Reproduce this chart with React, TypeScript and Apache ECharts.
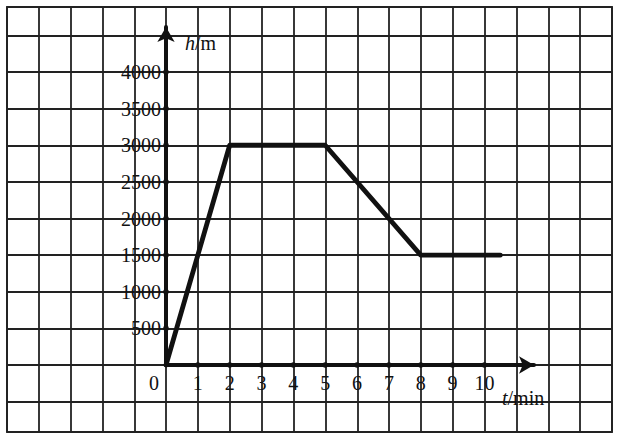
import { useEffect, useRef } from "react";
import * as echarts from "echarts";

// ---- data ----
const times = [0, 2, 5, 8, 10.5];
const heights = [0, 3000, 3000, 1500, 1500];
const xTickValues = [1, 2, 3, 4, 5, 6, 7, 8, 9, 10];
const xTickLabels = ["1", "2", "3", "4", "5", "6", "7", "8", "9", "10"];
const yTickValues = [500, 1000, 1500, 2000, 2500, 3000, 3500, 4000];
const yTickLabels = ["500", "1000", "1500", "2000", "2500", "3000", "3500", "4000"];
const paperXRange = [-5, 14];
const paperYRange = [-500, 4500];

// ---- layout ----
const W = 617;
const H = 439;
const OX = 166; // pixel of t = 0
const OY = 365; // pixel of h = 0
const UX = 31.84; // px per minute
const UY = 36.625; // px per 500 m
const PAPER = { left: 7, right: 612, top: 7, bottom: 432 };
const AXIS_END = { x: 534, y: 27 };

const FONT = "'Liberation Serif', 'Times New Roman', serif";
const INK = "#111";
const GRIDC = "#222";
const GRIDW = 1.8;

export default function App() {
  const ref = useRef<HTMLDivElement>(null);
  useEffect(() => {
    document.body.style.margin = "0";
    if (!ref.current) return;
    const chart = echarts.init(ref.current, null, { renderer: "svg" });

    const axXMax = (AXIS_END.x - OX) / UX;
    const axYMax = ((OY - AXIS_END.y) / UY) * 500;
    const hTop = OY - (paperYRange[1] / 500) * UY;
    const hBottom = OY - (paperYRange[0] / 500) * UY;

    const labelStyle = { fontFamily: FONT, fontSize: 20, color: INK };

    const hidden = {
      axisLine: { show: false },
      axisTick: { show: false },
      axisLabel: { show: false },
    };

    chart.setOption({
      animation: false,
      backgroundColor: "#fff",
      grid: [
        {
          left: PAPER.left,
          right: W - PAPER.right,
          top: PAPER.top,
          bottom: H - PAPER.bottom,
          show: true,
          borderColor: GRIDC,
          borderWidth: GRIDW,
        },
        { left: PAPER.left, right: W - PAPER.right, top: hTop, bottom: H - hBottom },
        { left: OX, right: W - AXIS_END.x, top: AXIS_END.y, bottom: H - OY },
      ],
      xAxis: [
        {
          gridIndex: 0,
          type: "value",
          min: paperXRange[0],
          max: paperXRange[1],
          interval: 1,
          ...hidden,
          splitLine: { show: true, lineStyle: { color: GRIDC, width: GRIDW } },
        },
        {
          gridIndex: 1,
          type: "value",
          min: 0,
          max: 1,
          ...hidden,
          splitLine: { show: false },
        },
        {
          gridIndex: 2,
          type: "value",
          min: 0,
          max: axXMax,
          interval: 1,
          axisLine: {
            show: true,
            onZero: false,
            symbol: ["none", "arrow"],
            symbolSize: [13, 15],
            lineStyle: { color: INK, width: 4 },
          },
          axisTick: { show: false },
          splitLine: { show: false },
          axisLabel: {
            ...labelStyle,
            margin: 8,
            showMaxLabel: false,
            formatter: (v: number) => {
              const i = xTickValues.indexOf(v);
              return i >= 0 ? xTickLabels[i] : "";
            },
          },
        },
      ],
      yAxis: [
        {
          gridIndex: 0,
          type: "value",
          min: 0,
          max: 1,
          ...hidden,
          splitLine: { show: false },
        },
        {
          gridIndex: 1,
          type: "value",
          min: paperYRange[0],
          max: paperYRange[1],
          interval: 500,
          ...hidden,
          splitLine: { show: true, lineStyle: { color: GRIDC, width: GRIDW } },
        },
        {
          gridIndex: 2,
          type: "value",
          min: 0,
          max: axYMax,
          interval: 500,
          axisLine: {
            show: true,
            onZero: false,
            symbol: ["none", "arrow"],
            symbolSize: [13, 15],
            lineStyle: { color: INK, width: 4 },
          },
          axisTick: { show: false },
          splitLine: { show: false },
          axisLabel: {
            ...labelStyle,
            margin: 5,
            showMaxLabel: false,
            formatter: (v: number) => {
              const i = yTickValues.indexOf(v);
              return i >= 0 ? yTickLabels[i] : "";
            },
          },
        },
      ],
      series: [
        {
          type: "line",
          xAxisIndex: 2,
          yAxisIndex: 2,
          data: times.map((t, i) => [t, heights[i]]),
          symbol: "none",
          clip: false,
          lineStyle: { color: INK, width: 4.8, join: "round", cap: "round" },
          z: 5,
        },
        {
          type: "scatter",
          xAxisIndex: 2,
          yAxisIndex: 2,
          symbolSize: 6,
          clip: false,
          itemStyle: { color: INK },
          data: [
            ...xTickValues.map((v) => [v, 0]),
            ...yTickValues.map((v) => [0, v]),
          ],
          z: 6,
        },
      ],
      graphic: [
        {
          type: "text",
          x: 185,
          y: 43,
          style: {
            text: "{a|h}{b|/m}",
            verticalAlign: "middle",
            rich: {
              a: { fontFamily: FONT, fontSize: 20, fontStyle: "italic", fill: INK },
              b: { fontFamily: FONT, fontSize: 20, fill: INK },
            },
          },
          z: 10,
        },
        {
          type: "text",
          x: 502,
          y: 398,
          style: {
            text: "{a|t}{b|/min}",
            verticalAlign: "middle",
            rich: {
              a: { fontFamily: FONT, fontSize: 20, fontStyle: "italic", fill: INK },
              b: { fontFamily: FONT, fontSize: 20, fill: INK },
            },
          },
          z: 10,
        },
        {
          type: "text",
          x: 154,
          y: 383,
          style: {
            text: "0",
            align: "center",
            verticalAlign: "middle",
            fontFamily: FONT,
            fontSize: 20,
            fill: INK,
          },
          z: 10,
        },
      ],
    });
    return () => chart.dispose();
  }, []);
  return <div ref={ref} style={{ width: W, height: H }} />;
}
